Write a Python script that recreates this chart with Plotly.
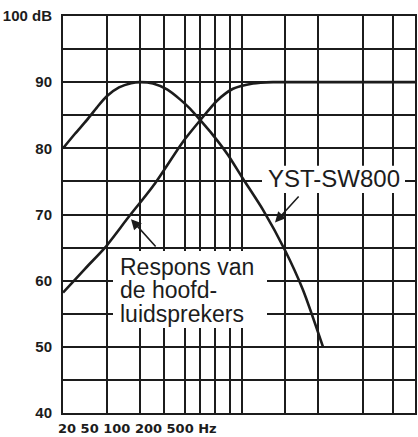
import plotly.graph_objects as go

# positions along the (unscaled) frequency axis
grid_x = [0, 44, 77, 101, 122, 137, 152, 167, 179, 222, 255, 300, 330, 352]

db_ticks = [40, 45, 50, 55, 60, 65, 70, 75, 80, 85, 90, 95, 100]
db_labels = ["40", "", "50", "", "60", "", "70", "", "80", "", "90", "", "100 dB"]

# YST-SW800 (subwoofer)
sub_x = [0, 12, 24, 34, 44, 56, 68, 77, 90, 104, 117, 127, 137, 150, 165, 180, 200, 222, 240, 260]
sub_db = [80, 82.2, 84.3, 86.2, 87.9, 89.2, 89.85, 90, 89.8, 88.9, 87.4, 86, 84.3, 82, 79, 75.4, 70.7, 64.6, 58.6, 50]

# hoofdluidsprekers
main_x = [0, 22, 42, 65, 92, 120, 137, 154, 170, 190, 210, 240, 352]
main_db = [58.2, 61.8, 65.0, 69.5, 74.7, 81.0, 84.2, 87.2, 89.0, 89.8, 90, 90, 90]

freq_text = "20 50 100 200 500 Hz"
sub_name = "YST-SW800"
main_lines = ["Respons van", "de hoofd-", "luidsprekers"]

INK = "#1c1c1c"
FONT = "Liberation Sans, Arial, sans-serif"

fig = go.Figure()
fig.add_trace(go.Scatter(x=main_x, y=main_db, mode="lines",
                         line=dict(color=INK, width=2.6, shape="spline", smoothing=0.7),
                         hoverinfo="skip"))
fig.add_trace(go.Scatter(x=sub_x, y=sub_db, mode="lines",
                         line=dict(color=INK, width=2.6, shape="spline", smoothing=0.7),
                         hoverinfo="skip"))

# white patches behind the labels (cover the grid only)
fig.add_shape(type="rect", x0=50, x1=204, y0=52.85, y1=64.5, layer="between",
              fillcolor="white", line=dict(width=0))
fig.add_shape(type="rect", x0=199, x1=342, y0=73.25, y1=77.35, layer="between",
              fillcolor="white", line=dict(width=0))

for txt, yy in zip(main_lines, [62.07, 58.55, 55.03]):
    fig.add_annotation(x=54.5, y=yy, text=txt, showarrow=False, xanchor="left", yanchor="middle",
                       font=dict(family=FONT, size=23, color=INK))
fig.add_annotation(x=203, y=75.38, text=sub_name, showarrow=False, xanchor="left", yanchor="middle",
                   font=dict(family=FONT, size=24, color=INK))

# arrows
fig.add_annotation(x=68, y=69.3, ax=94, ay=64.94, axref="x", ayref="y", text="",
                   showarrow=True, arrowhead=2, arrowsize=1.3, arrowwidth=1.6, arrowcolor=INK)
fig.add_annotation(x=212, y=68.8, ax=237, ay=72.95, axref="x", ayref="y", text="",
                   showarrow=True, arrowhead=2, arrowsize=1.3, arrowwidth=1.6, arrowcolor=INK)

# frequency labels under the left part of the grid
fig.add_annotation(x=-0.02, y=-0.038, xref="paper", yref="paper", text="<b>" + freq_text + "</b>",
                   showarrow=False, xanchor="left", yanchor="middle",
                   font=dict(family="DejaVu Sans, sans-serif", size=13, color=INK))

fig.update_layout(
    width=418, height=437,
    margin=dict(l=63, r=3, t=16, b=24),
    paper_bgcolor="white", plot_bgcolor="white",
    showlegend=False,
    xaxis=dict(range=[0, 352], tickvals=grid_x, showticklabels=False, ticks="",
               showgrid=True, gridcolor=INK, gridwidth=2, zeroline=False, automargin=False,
               showline=True, mirror=True, linecolor=INK, linewidth=2),
    yaxis=dict(range=[40, 100], tickvals=db_ticks, ticktext=db_labels, ticks="",
               showgrid=True, gridcolor=INK, gridwidth=2, zeroline=False, automargin=False,
               showline=True, mirror=True, linecolor=INK, linewidth=2,
               ticklabelstandoff=6, ticklabeloverflow="allow",
               tickfont=dict(family=FONT, size=15, color=INK, weight="bold")),
)

# drop the default page margin so the figure sits at the window corner
fig.write_html("out.html", config={"displayModeBar": False},
               post_script="document.body.style.margin = '0';")
